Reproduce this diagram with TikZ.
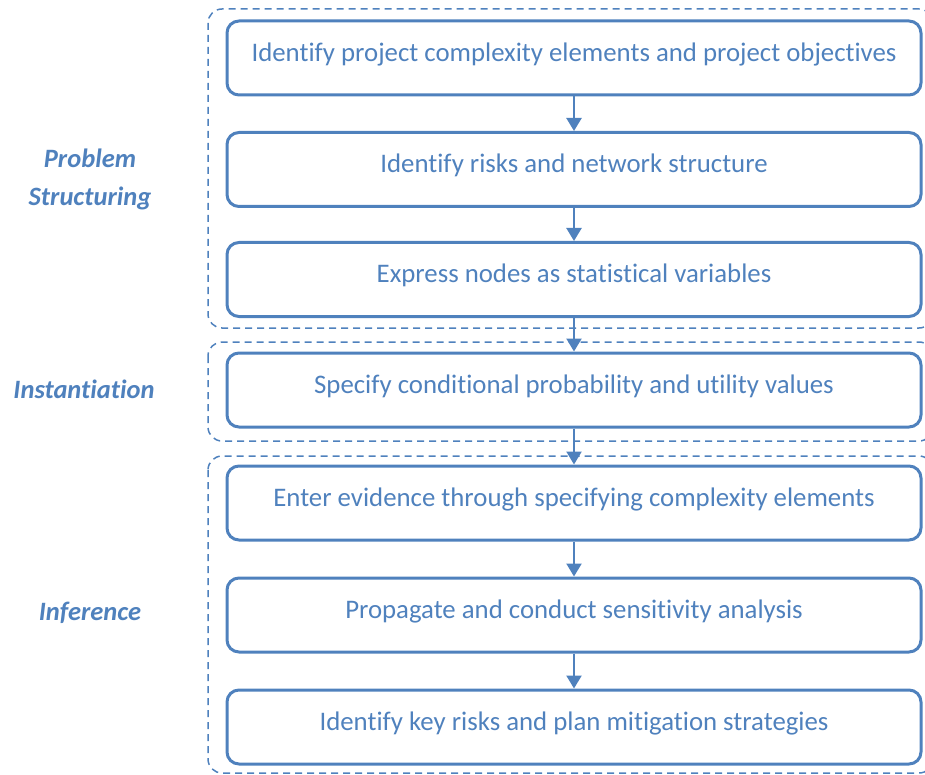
\documentclass[tikz,border=0pt]{standalone}
\usepackage{fontspec}
\setmainfont{Carlito}[Ligatures=NoCommon]
\usetikzlibrary{arrows.meta}
\definecolor{ofblue}{HTML}{4F81BD}
\tikzset{
  stepbox/.style={draw=ofblue, line width=3pt, rounded corners=12pt, minimum width=694pt, minimum height=74pt, text=ofblue, font=\fontsize{26.8}{32}\selectfont, inner sep=0pt, text height=19pt, text depth=12pt},
  groupbox/.style={draw=ofblue, line width=1.5pt, dash pattern=on 7pt off 5pt, rounded corners=14pt},
  flow/.style={draw=ofblue, line width=2.3pt, -{Triangle[width=15pt,length=13pt]}},
  phase/.style={text=ofblue, font=\fontsize{26.5}{38}\selectfont\bfseries\itshape, align=center, inner sep=0pt}
}
\begin{document}
\begin{tikzpicture}[x=1pt,y=-1pt]
\useasboundingbox (0,0) rectangle (925,775);
\clip (0,0) rectangle (925,775);
\draw[groupbox] (208,9) rectangle (933,328);
\draw[groupbox] (208,342) rectangle (933,441);
\draw[groupbox] (208,456) rectangle (933,773);
\node[stepbox] (b1) at (574,58) {Identify project complexity elements and project objectives};
\node[stepbox] (b2) at (574,169.5) {Identify risks and network structure};
\node[stepbox] (b3) at (574,279.5) {Express nodes as statistical variables};
\node[stepbox] (b4) at (574,390) {Specify conditional probability and utility values};
\node[stepbox] (b5) at (574,503) {Enter evidence through specifying complexity elements};
\node[stepbox] (b6) at (574,615) {Propagate and conduct sensitivity analysis};
\node[stepbox] (b7) at (574,727) {Identify key risks and plan mitigation strategies};
\draw[flow] (b1.south) -- (b2.north);
\draw[flow] (b2.south) -- (b3.north);
\draw[flow] (b3.south) -- (b4.north);
\draw[flow] (b4.south) -- (b5.north);
\draw[flow] (b5.south) -- (b6.north);
\draw[flow] (b6.south) -- (b7.north);
\node[phase] (p1) at (90,179) {Problem\\Structuring};
\node[phase] (p2) at (84,389) {Instantiation};
\node[phase] (p3) at (90,613) {Inference};
\end{tikzpicture}
\end{document}
